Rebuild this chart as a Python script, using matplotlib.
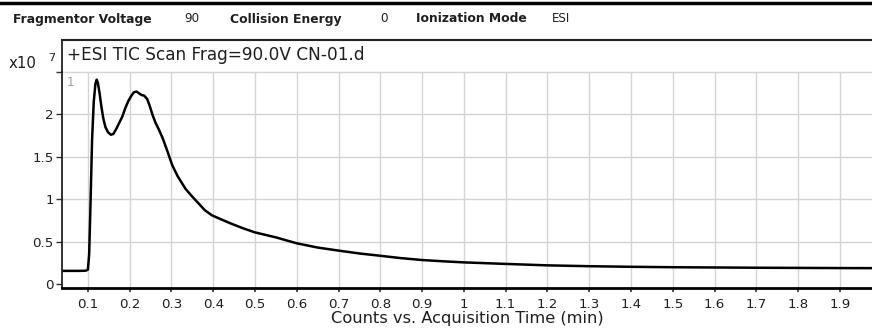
import matplotlib
matplotlib.use("Agg")
import matplotlib.pyplot as plt
from matplotlib.lines import Line2D

# ---- data (counts in units of 1e7) ----
time_min = [0.038, 0.060, 0.080, 0.095, 0.100, 0.103, 0.106, 0.110, 0.114, 0.118,
            0.121, 0.124, 0.128, 0.132, 0.137, 0.142, 0.148, 0.155, 0.161, 0.168,
            0.175, 0.182, 0.190, 0.197, 0.204, 0.210, 0.216, 0.222, 0.228, 0.235,
            0.242, 0.248, 0.255, 0.262, 0.270, 0.279, 0.290, 0.302, 0.315, 0.334,
            0.350, 0.365, 0.380, 0.397, 0.420, 0.444, 0.470, 0.499, 0.550, 0.600,
            0.650, 0.700, 0.750, 0.800, 0.850, 0.900, 0.950, 1.000, 1.100, 1.200,
            1.300, 1.400, 1.500, 1.600, 1.700, 1.800, 1.900, 1.977]
counts_e7 = [0.155, 0.155, 0.155, 0.157, 0.170, 0.350, 0.900, 1.700, 2.150, 2.360,
             2.410, 2.370, 2.250, 2.100, 1.950, 1.850, 1.790, 1.760, 1.770, 1.830,
             1.900, 1.970, 2.080, 2.160, 2.220, 2.260, 2.270, 2.250, 2.230, 2.220,
             2.180, 2.100, 1.990, 1.900, 1.820, 1.720, 1.570, 1.400, 1.270, 1.120,
             1.030, 0.950, 0.870, 0.810, 0.760, 0.710, 0.660, 0.610, 0.550, 0.480,
             0.430, 0.394, 0.360, 0.333, 0.305, 0.283, 0.268, 0.255, 0.237, 0.220,
             0.210, 0.203, 0.198, 0.195, 0.192, 0.190, 0.188, 0.187]

x_ticks = [0.1, 0.2, 0.3, 0.4, 0.5, 0.6, 0.7, 0.8, 0.9, 1.0,
           1.1, 1.2, 1.3, 1.4, 1.5, 1.6, 1.7, 1.8, 1.9]
x_tick_labels = ["0.1", "0.2", "0.3", "0.4", "0.5", "0.6", "0.7", "0.8", "0.9", "1",
                 "1.1", "1.2", "1.3", "1.4", "1.5", "1.6", "1.7", "1.8", "1.9"]
y_ticks = [0, 0.5, 1, 1.5, 2, 2.5]
y_tick_labels = ["0", "0.5", "1", "1.5", "2", ""]
y_grid = [0.5, 1, 1.5, 2, 2.5]

header_labels = ["Fragmentor Voltage", "Collision Energy", "Ionization Mode"]
header_values = ["90", "0", "ESI"]
title = "+ESI TIC Scan Frag=90.0V CN-01.d"
xlabel = "Counts vs. Acquisition Time (min)"

# ---- figure ----
W, H = 872, 329
fig = plt.figure(figsize=(W / 100, H / 100), dpi=100)
fig.patch.set_facecolor("white")
FONT = "DejaVu Sans"
TXT = "#1e1e1e"


def fx(px):
    return px / W


def fy(py):
    return 1 - py / H


ax = fig.add_axes([fx(62), fy(288), fx(872 - 62), (288 - 72) / H])
ax.plot(time_min, counts_e7, color="black", lw=1.8, solid_joinstyle="round")
ax.set_xlim(0.038, 1.977)
ax.set_ylim(-0.047, 2.5)

ax.set_xticks(x_ticks)
ax.set_xticklabels(x_tick_labels, fontfamily=FONT, fontsize=9.6, color=TXT)
ax.set_yticks(y_ticks)
ax.set_yticklabels(y_tick_labels, fontfamily=FONT, fontsize=9.6, color=TXT)
ax.tick_params(axis="x", length=3, width=1.2, color="#333333", pad=4)
ax.tick_params(axis="y", length=4, width=1.0, color="#333333", pad=2)

ax.grid(axis="x", color="#d4d4d4", lw=1.0)
for gy in y_grid:
    ax.axhline(gy, color="#d4d4d4", lw=1.0, zorder=0.5, clip_on=False)
ax.set_axisbelow(True)

for s in ("top", "right"):
    ax.spines[s].set_visible(False)
ax.spines["left"].set_linewidth(1.3)
ax.spines["left"].set_color("#222222")
ax.spines["bottom"].set_linewidth(2.0)
ax.spines["bottom"].set_color("black")

ax.set_xlabel(xlabel, fontfamily=FONT, fontsize=11.7, color=TXT, labelpad=0)

# plot index label
ax.text(fx(67), fy(82), "1", transform=fig.transFigure, fontfamily=FONT,
        fontsize=8.5, color="#9a9a9a", va="center", ha="left")

# ---- frame lines ----
fig.add_artist(Line2D([0, 1], [fy(2.5), fy(2.5)], transform=fig.transFigure,
                      color="black", lw=2.5))
fig.add_artist(Line2D([fx(62), 1], [fy(40), fy(40)], transform=fig.transFigure,
                      color="#222222", lw=1.5))
fig.add_artist(Line2D([fx(62), fx(62)], [fy(40), fy(72)], transform=fig.transFigure,
                      color="#222222", lw=1.3))

# ---- header ----
label_x = [13, 230, 416]
value_x = [184, 380, 552]
for lab, lx, val, vx in zip(header_labels, label_x, header_values, value_x):
    fig.text(fx(lx), fy(19), lab, fontfamily=FONT, fontweight="bold",
             fontsize=8.9, color=TXT, va="center", ha="left")
    fig.text(fx(vx), fy(19), val, fontfamily=FONT, fontsize=8.6,
             color=TXT, va="center", ha="left")

# title inside box
fig.text(fx(67), fy(55), title, fontfamily=FONT, fontsize=12.2, color=TXT,
         va="center", ha="left")

# multiplier
fig.text(fx(9), fy(63), "x10", fontfamily=FONT, fontsize=10.8, color=TXT,
         va="center", ha="left")
fig.text(fx(48), fy(58), "7", fontfamily=FONT, fontsize=8, color=TXT,
         va="center", ha="left")

fig.savefig("out.png", dpi=100)
